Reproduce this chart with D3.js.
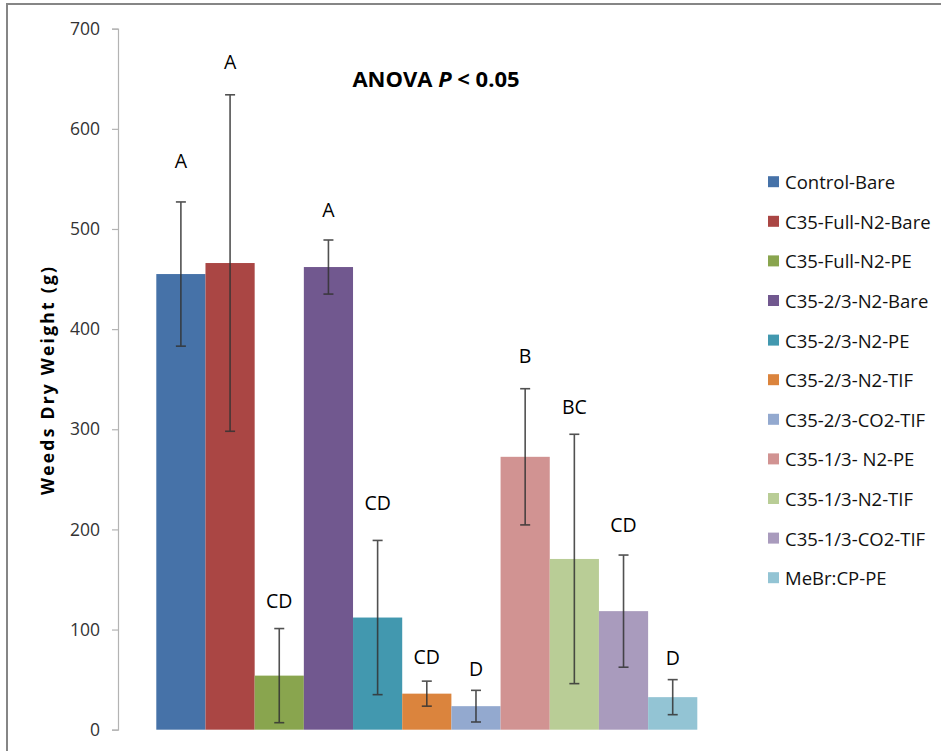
<!DOCTYPE html>
<html>
<head>
<meta charset="utf-8">
<script src="https://cdn.jsdelivr.net/npm/d3@7"></script>
<style>
  html, body { margin: 0; padding: 0; background: #fff; }
  svg { display: block; font-family: "Open Sans", "Noto Sans", sans-serif; }
</style>
</head>
<body>
<div id="chart"></div>
<script>
// Treatments, one bar each
const treatments = [
  "Control-Bare", "C35-Full-N2-Bare", "C35-Full-N2-PE", "C35-2/3-N2-Bare",
  "C35-2/3-N2-PE", "C35-2/3-N2-TIF", "C35-2/3-CO2-TIF", "C35-1/3- N2-PE",
  "C35-1/3-N2-TIF", "C35-1/3-CO2-TIF", "MeBr:CP-PE"
];
// Mean weeds dry weight (g)
const meanWeight = [455, 466, 54, 462, 112, 36, 23.5, 272.5, 170.5, 118.4, 32.5];
// Error bar half-length (g)
const errWeight = [72, 168, 47, 27, 77, 12.5, 15.8, 68, 124.5, 56, 17.5];
// Mean separation letters and the axis level they sit at (g)
const groupLetters = ["A", "A", "CD", "A", "CD", "CD", "D", "B", "BC", "CD", "D"];
const letterLevel = [568, 667, 129.5, 519, 226.7, 72.6, 61.6, 374, 322.5, 205.4, 71.9];
// Y axis ticks
const yTicks = [0, 100, 200, 300, 400, 500, 600, 700];
const barColors = [
  "#4672A8", "#AA4644", "#89A54E", "#71588F", "#4298AF", "#DB843D",
  "#93A9CF", "#D19392", "#B9CD96", "#A99BBD", "#93C4D4"
];

const W = 941, H = 751;
const svg = d3.select("#chart").append("svg").attr("width", W).attr("height", H);

// outer chart frame
svg.append("rect")
  .attr("x", 7).attr("y", 4).attr("width", 1000).attr("height", 1000)
  .attr("fill", "#fff").attr("stroke", "#868686").attr("stroke-width", 2);

const y = d3.scaleLinear().domain([0, 700]).range([729.7, 28.7]);
const x = d3.scaleBand().domain(treatments).range([156.3, 697.3]).padding(0);
const color = d3.scaleOrdinal().domain(treatments).range(barColors);

// y axis
const yAxis = d3.axisLeft(y).tickValues(yTicks).tickSize(6).tickPadding(12).tickFormat(d3.format("d"));
const gy = svg.append("g").attr("transform", "translate(118,0)").call(yAxis);
gy.select(".domain").attr("stroke", "#B3B3B3").attr("stroke-width", 1.2);
gy.selectAll(".tick line").attr("stroke", "#B3B3B3").attr("stroke-width", 1.2);
gy.selectAll(".tick text")
  .attr("font-family", "'Open Sans', sans-serif")
  .attr("font-size", 17.5).attr("fill", "#333");

// y axis title
svg.append("text")
  .attr("transform", "translate(47,381) rotate(-90)")
  .attr("text-anchor", "middle").attr("dominant-baseline", "central")
  .attr("font-size", 17.5).attr("font-weight", "bold").attr("fill", "#000")
  .attr("textLength", 228).attr("lengthAdjust", "spacing")
  .text("Weeds Dry Weight (g)");

const rows = treatments.map((t, i) => ({
  name: t, mean: meanWeight[i], err: errWeight[i], letter: groupLetters[i], level: letterLevel[i]
}));

// bars
svg.append("g").selectAll("rect").data(rows).join("rect")
  .attr("x", d => x(d.name))
  .attr("width", x.bandwidth())
  .attr("y", d => y(d.mean))
  .attr("height", d => y(0) - y(d.mean))
  .attr("fill", d => color(d.name));

// error bars
const eb = svg.append("g").attr("stroke", "#333").attr("stroke-width", 1.6).attr("opacity", 0.85)
  .selectAll("g").data(rows).join("g");
const cx = d => x(d.name) + x.bandwidth() / 2;
eb.append("line")
  .attr("x1", cx).attr("x2", cx)
  .attr("y1", d => y(d.mean + d.err)).attr("y2", d => y(d.mean - d.err));
eb.append("line")
  .attr("x1", d => cx(d) - 5).attr("x2", d => cx(d) + 5)
  .attr("y1", d => y(d.mean + d.err)).attr("y2", d => y(d.mean + d.err));
eb.append("line")
  .attr("x1", d => cx(d) - 5).attr("x2", d => cx(d) + 5)
  .attr("y1", d => y(d.mean - d.err)).attr("y2", d => y(d.mean - d.err));

// group letters
svg.append("g").selectAll("text").data(rows).join("text")
  .attr("x", cx)
  .attr("y", d => y(d.level))
  .attr("text-anchor", "middle").attr("dominant-baseline", "central")
  .attr("font-size", 19.5).attr("fill", "#000")
  .text(d => d.letter);

// title
const title = svg.append("text")
  .attr("x", 436).attr("y", 78)
  .attr("text-anchor", "middle").attr("dominant-baseline", "central")
  .attr("font-size", 22).attr("font-weight", "bold").attr("fill", "#000");
title.append("tspan").text("ANOVA ");
title.append("tspan").attr("font-style", "italic").text("P");
title.append("tspan").text(" < 0.05");

// legend
const legend = svg.append("g").selectAll("g").data(treatments).join("g")
  .attr("transform", (d, i) => `translate(768,${181.7 + i * 39.6})`);
legend.append("rect")
  .attr("x", 0).attr("y", -5.5).attr("width", 11).attr("height", 11)
  .attr("fill", d => color(d));
legend.append("text")
  .attr("x", 17).attr("y", 0).attr("dominant-baseline", "central")
  .attr("font-size", 18.5).attr("fill", "#111")
  .text(d => d);
</script>
</body>
</html>
